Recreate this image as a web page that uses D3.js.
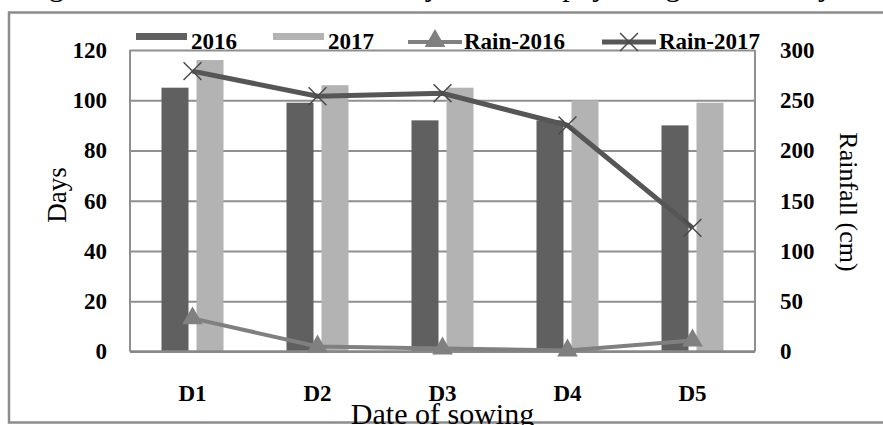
<!DOCTYPE html>
<html><head><meta charset="utf-8">
<script src="https://cdn.jsdelivr.net/npm/d3@7"></script>
<style>body{margin:0;background:#fff} svg{display:block}</style>
</head><body><svg id="c" width="883" height="425"></svg>
<script>
const categories = ["D1", "D2", "D3", "D4", "D5"];
const days2016 = [105, 99, 92, 92, 90];
const days2017 = [116, 106, 105, 100, 99];
const rain2016 = [33, 5, 3, 1, 11];
const rain2017 = [279, 254, 257, 225, 123];
const daysTicks = [0, 20, 40, 60, 80, 100, 120];
const rainTicks = [0, 50, 100, 150, 200, 250, 300];
const barSeries = ["2016", "2017"];
const lineSeries = ["Rain-2016", "Rain-2017"];
const titleText = "Fig. 2: Rainfall and number of days taken to physiological maturity";
const xTitle = "Date of sowing";
const yTitleLeft = "Days";
const yTitleRight = "Rainfall (cm)";

const svg = d3.select("#c");
const L = 130, R = 755, T = 50, B = 351.5;
const serif = "'Liberation Serif','Times New Roman',serif";
const cDark = "#606060", cLight = "#b3b3b3", cRain16 = "#808080", cRain17 = "#565656", cGrid = "#8f8f8f";

const x = d3.scaleBand().domain(categories).range([L, R]);
const xi = d3.scaleBand().domain(barSeries).range([0, 62]).paddingInner(0.2286);
const groupOff = (x.bandwidth() - 62) / 2;
const yD = d3.scaleLinear().domain([0, 120]).range([B, T]);
const yR = d3.scaleLinear().domain([0, 300]).range([B, T]);

svg.append("rect").attr("width", 883).attr("height", 425).attr("fill", "#fff");

// cut-off title
svg.append("text").attr("x", 24).attr("y", -4)
  .attr("font-family", serif).attr("font-size", 30).attr("fill", "#000").text(titleText);

// outer frame
svg.append("rect").attr("x", 9).attr("y", 12.5).attr("width", 900).attr("height", 410)
  .attr("fill", "none").attr("stroke", "#8c8c8c").attr("stroke-width", 2.5);

// left axis + grid
const gL = svg.append("g").attr("transform", `translate(${L},0)`)
  .call(d3.axisLeft(yD).tickValues(daysTicks).tickSize(-(R - L)).tickPadding(23));
gL.select(".domain").remove();
gL.selectAll("line").attr("stroke", cGrid).attr("stroke-width", 2);
gL.selectAll("text").attr("font-family", serif).attr("font-size", 23).attr("font-weight", "bold").attr("fill", "#000");

// right axis
const gR = svg.append("g").attr("transform", `translate(${R},0)`)
  .call(d3.axisRight(yR).tickValues(rainTicks).tickSize(0).tickPadding(25));
gR.select(".domain").remove();
gR.selectAll("text").attr("font-family", serif).attr("font-size", 23).attr("font-weight", "bold").attr("fill", "#000");

// plot frame sides
svg.append("line").attr("x1", L).attr("x2", L).attr("y1", T).attr("y2", B).attr("stroke", cGrid).attr("stroke-width", 2);
svg.append("line").attr("x1", R).attr("x2", R).attr("y1", T).attr("y2", B).attr("stroke", cGrid).attr("stroke-width", 2);

// bottom axis
const gB = svg.append("g").attr("transform", `translate(0,${B})`)
  .call(d3.axisBottom(x).tickSize(0).tickPadding(33));
gB.select(".domain").remove();
gB.selectAll("text").attr("font-family", serif).attr("font-size", 23).attr("font-weight", "bold").attr("fill", "#000");

// bars
const barData = [days2016, days2017];
const barColors = [cDark, cLight];
barSeries.forEach((s, si) => {
  svg.append("g").selectAll("rect").data(categories).join("rect")
    .attr("x", c => x(c) + groupOff + xi(s))
    .attr("width", xi.bandwidth())
    .attr("y", (c, i) => yD(barData[si][i]))
    .attr("height", (c, i) => B - yD(barData[si][i]))
    .attr("fill", barColors[si]);
});
svg.append("line").attr("x1", L).attr("x2", R).attr("y1", B).attr("y2", B).attr("stroke", "#888").attr("stroke-width", 2.5);

const cx = c => x(c) + x.bandwidth() / 2;
const line = d3.line().x(d => cx(d.c)).y(d => yR(d.v));
const r16 = categories.map((c, i) => ({c, v: rain2016[i]}));
const r17 = categories.map((c, i) => ({c, v: rain2017[i]}));

const tri = d3.symbol(d3.symbolTriangle).size(185);
const times = d3.symbol(d3.symbolTimes).size(210);

svg.append("path").datum(r16).attr("d", line).attr("fill", "none").attr("stroke", cRain16).attr("stroke-width", 4);
svg.append("g").selectAll("path").data(r16).join("path")
  .attr("transform", d => `translate(${cx(d.c)},${yR(d.v)})`).attr("d", tri).attr("fill", cRain16);

svg.append("path").datum(r17).attr("d", line).attr("fill", "none").attr("stroke", cRain17).attr("stroke-width", 5);
svg.append("g").selectAll("path").data(r17).join("path")
  .attr("transform", d => `translate(${cx(d.c)},${yR(d.v)})`).attr("d", times)
  .attr("fill", "none").attr("stroke", "#4a4a4a").attr("stroke-width", 1.5);

// legend
const lg = svg.append("g").attr("font-family", serif).attr("font-size", 23).attr("font-weight", "bold");
lg.append("rect").attr("x", 136).attr("y", 33).attr("width", 51).attr("height", 7).attr("fill", cDark);
lg.append("text").attr("x", 191).attr("y", 49).text(barSeries[0]);
lg.append("rect").attr("x", 273).attr("y", 33).attr("width", 51).attr("height", 7).attr("fill", cLight);
lg.append("text").attr("x", 328).attr("y", 49).text(barSeries[1]);
lg.append("line").attr("x1", 408).attr("x2", 462).attr("y1", 42).attr("y2", 42).attr("stroke", cRain16).attr("stroke-width", 4);
lg.append("path").attr("transform", "translate(435,41)").attr("d", tri).attr("fill", cRain16);
lg.append("text").attr("x", 464).attr("y", 49).text(lineSeries[0]);
lg.append("line").attr("x1", 602).attr("x2", 656).attr("y1", 42).attr("y2", 42).attr("stroke", cRain17).attr("stroke-width", 5);
lg.append("path").attr("transform", "translate(629,42)").attr("d", times).attr("fill", "none").attr("stroke", "#4a4a4a").attr("stroke-width", 1.5);
lg.append("text").attr("x", 659).attr("y", 49).text(lineSeries[1]);

// axis titles
svg.append("text").attr("transform", "translate(66,195) rotate(-90)").attr("text-anchor", "middle")
  .attr("font-family", serif).attr("font-size", 27).text(yTitleLeft);
svg.append("text").attr("transform", "translate(840,202) rotate(90)").attr("text-anchor", "middle")
  .attr("font-family", serif).attr("font-size", 26).text(yTitleRight);
svg.append("text").attr("x", (L + R) / 2).attr("y", 424).attr("text-anchor", "middle")
  .attr("font-family", serif).attr("font-size", 30).text(xTitle);
</script></body></html>
